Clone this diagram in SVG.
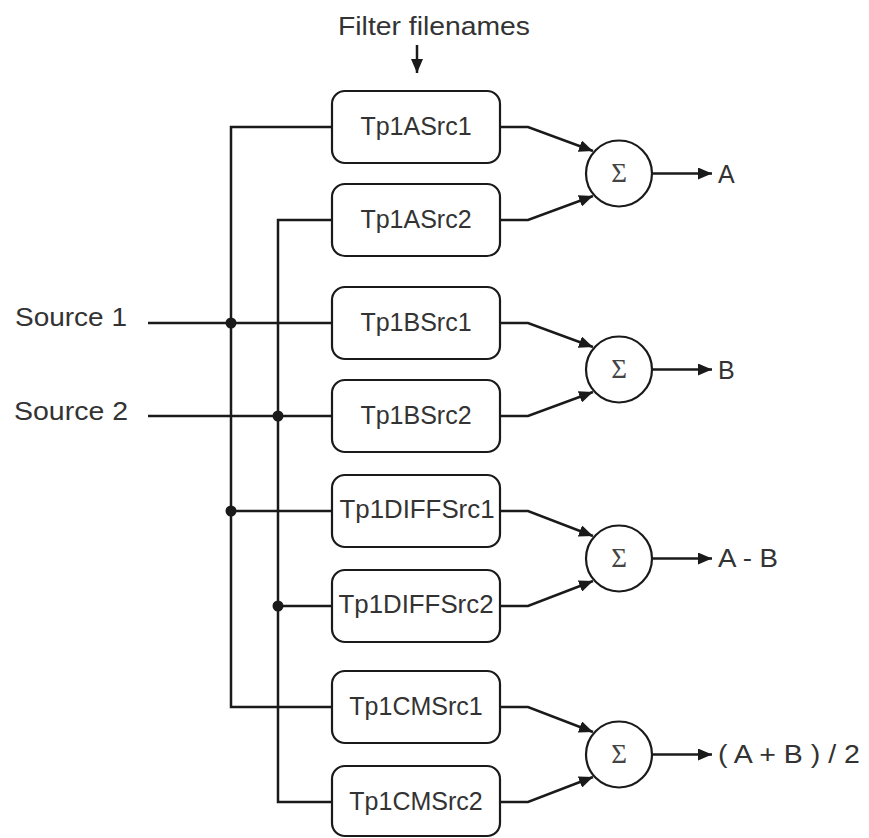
<svg xmlns="http://www.w3.org/2000/svg" width="869" height="838" viewBox="0 0 869 838">
<style>
  .box{fill:#fff;stroke:#1a1a1a;stroke-width:2.2}
  .sum{fill:#fff;stroke:#1a1a1a;stroke-width:2.2}
  .wire{fill:none;stroke:#1a1a1a;stroke-width:2.5}
  .arr{fill:none;stroke:#1a1a1a;stroke-width:2.5;marker-end:url(#ah)}
  .lbl{font-family:"Liberation Sans",Arial,sans-serif;font-size:25px;fill:#333;text-anchor:middle}
  .txt{font-family:"Liberation Sans",Arial,sans-serif;font-size:25px;fill:#333}
  .sig{font-family:"Liberation Serif","DejaVu Serif",serif;font-size:27px;fill:#444;text-anchor:middle}
  .dot{fill:#1a1a1a}
</style>
<defs>
  <marker id="ah" markerUnits="userSpaceOnUse" markerWidth="15" markerHeight="12" refX="14" refY="6" orient="auto">
    <path d="M0,0 L14,6 L0,12 z" fill="#1a1a1a"/>
  </marker>
</defs>

<text class="txt" x="338" y="35" textLength="192" lengthAdjust="spacingAndGlyphs">Filter filenames</text>
<text class="txt" x="15" y="326" textLength="112" lengthAdjust="spacingAndGlyphs">Source 1</text>
<text class="txt" x="14" y="420" textLength="114" lengthAdjust="spacingAndGlyphs">Source 2</text>

<g id="connectors">
  <path class="arr" d="M417,45 V73"/>
  <path class="wire" d="M148,323 H332"/>
  <path class="wire" d="M148,416 H332"/>
  <path class="wire" d="M332,127 H231 V707 H332"/>
  <path class="wire" d="M231,511 H332"/>
  <path class="wire" d="M332,220 H278 V802 H332"/>
  <path class="wire" d="M278,606 H332"/>
  <circle class="dot" cx="231" cy="323" r="5.5"/>
  <circle class="dot" cx="278" cy="416" r="5.5"/>
  <circle class="dot" cx="231" cy="511" r="5.5"/>
  <circle class="dot" cx="278" cy="606" r="5.5"/>
  <path class="arr" d="M500,127 H528 L593,151"/>
  <path class="arr" d="M500,220 H528 L593,196"/>
  <path class="arr" d="M500,323 H528 L593,347"/>
  <path class="arr" d="M500,416 H528 L593,392"/>
  <path class="arr" d="M500,511 H528 L593,536"/>
  <path class="arr" d="M500,606 H528 L593,581"/>
  <path class="arr" d="M500,707 H528 L593,732"/>
  <path class="arr" d="M500,802 H528 L593,777"/>
  <path class="arr" d="M652,173.5 H712"/>
  <path class="arr" d="M652,369.5 H712"/>
  <path class="arr" d="M652,558.5 H712"/>
  <path class="arr" d="M652,754.5 H712"/>
</g>

<g id="Tp1ASrc1"><rect class="box" x="332" y="91" width="168" height="72" rx="13"/><text class="lbl" x="416" y="135">Tp1ASrc1</text></g>
<g id="Tp1ASrc2"><rect class="box" x="332" y="184" width="168" height="72" rx="13"/><text class="lbl" x="416" y="228">Tp1ASrc2</text></g>
<g id="Tp1BSrc1"><rect class="box" x="332" y="287" width="168" height="72" rx="13"/><text class="lbl" x="416" y="331">Tp1BSrc1</text></g>
<g id="Tp1BSrc2"><rect class="box" x="332" y="380" width="168" height="72" rx="13"/><text class="lbl" x="416" y="424">Tp1BSrc2</text></g>
<g id="Tp1DIFFSrc1"><rect class="box" x="332" y="475" width="168" height="72" rx="13"/><text class="lbl" x="417" y="518" textLength="155" lengthAdjust="spacingAndGlyphs">Tp1DIFFSrc1</text></g>
<g id="Tp1DIFFSrc2"><rect class="box" x="332" y="570" width="168" height="72" rx="13"/><text class="lbl" x="416" y="613" textLength="155" lengthAdjust="spacingAndGlyphs">Tp1DIFFSrc2</text></g>
<g id="Tp1CMSrc1"><rect class="box" x="332" y="671" width="168" height="72" rx="13"/><text class="lbl" x="416" y="715">Tp1CMSrc1</text></g>
<g id="Tp1CMSrc2"><rect class="box" x="332" y="766" width="168" height="70" rx="13"/><text class="lbl" x="416" y="810">Tp1CMSrc2</text></g>

<g id="sumA"><circle class="sum" cx="619" cy="173.5" r="33"/><text class="sig" x="619" y="182">Σ</text></g>
<g id="sumB"><circle class="sum" cx="619" cy="369.5" r="33"/><text class="sig" x="619" y="378">Σ</text></g>
<g id="sumAB"><circle class="sum" cx="619" cy="558.5" r="33"/><text class="sig" x="619" y="567">Σ</text></g>
<g id="sumCM"><circle class="sum" cx="619" cy="754.5" r="33"/><text class="sig" x="619" y="763">Σ</text></g>

<text class="txt" x="718" y="183">A</text>
<text class="txt" x="718" y="379">B</text>
<text class="txt" x="718" y="567" textLength="60" lengthAdjust="spacingAndGlyphs">A - B</text>
<text class="txt" x="718" y="763" textLength="142" lengthAdjust="spacingAndGlyphs">( A + B ) / 2</text>
</svg>
